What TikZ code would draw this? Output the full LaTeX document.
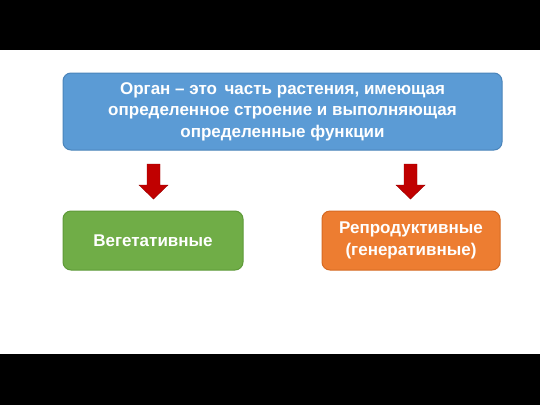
\documentclass[tikz,border=0pt]{standalone}
\usepackage{fontspec}
\setmainfont{Liberation Sans}
\definecolor{boxblue}{HTML}{5B9BD5}
\definecolor{boxblueb}{HTML}{4A84BA}
\definecolor{boxgreen}{HTML}{70AD47}
\definecolor{boxgreenb}{HTML}{5E9A38}
\definecolor{boxorange}{HTML}{ED7D31}
\definecolor{boxorangeb}{HTML}{D66A22}
\definecolor{arrred}{HTML}{C00000}
\tikzset{
  box/.style={rectangle, rounded corners=8pt, line width=1pt, text=white, font=\bfseries\fontsize{17}{21.5}\selectfont, align=center, inner sep=0pt},
  redarrow/.style={fill=arrred, draw=arrred!80!black}
}
\begin{document}
\begin{tikzpicture}[x=1pt,y=-1pt]
\fill[black] (0,0) rectangle (540,405);
\fill[white] (0,50) rectangle (540,354);
\useasboundingbox (0,0) rectangle (540,405);
\node[box, fill=boxblue, draw=boxblueb, minimum width=439pt, minimum height=77pt] (organ) at (282.5,111.5) {Орган – это\, часть растения, имеющая\\определенное строение и выполняющая\\определенные функции};
\node[box, fill=boxgreen, draw=boxgreenb, minimum width=180pt, minimum height=59pt] (veg) at (153,240.5) {Вегетативные};
\node[box, fill=boxorange, draw=boxorangeb, minimum width=178pt, minimum height=59pt] (rep) at (411,240.5) {Репродуктивные\\(генеративные)};
\draw[redarrow] (147,164) -- (160,164) -- (160,185) -- (168,185) -- (153.5,199) -- (139,185) -- (147,185) -- cycle;
\draw[redarrow] (404,164) -- (417,164) -- (417,185) -- (425,185) -- (410.5,199) -- (396,185) -- (404,185) -- cycle;
\end{tikzpicture}
\end{document}
